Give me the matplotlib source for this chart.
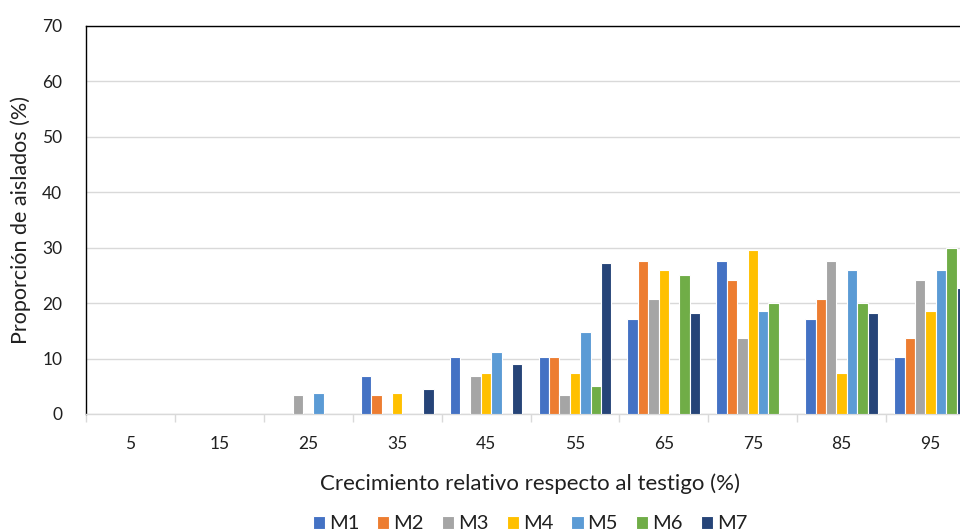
import matplotlib.pyplot as plt
import numpy as np

# === Data ===
categories = ["5", "15", "25", "35", "45", "55", "65", "75", "85", "95"]
series_names = ["M1", "M2", "M3", "M4", "M5", "M6", "M7"]
m1 = [0, 0, 0, 6.9, 10.3, 10.3, 17.2, 27.6, 17.2, 10.3]
m2 = [0, 0, 0, 3.4, 0, 10.3, 27.6, 24.1, 20.7, 13.8]
m3 = [0, 0, 3.4, 0, 6.9, 3.4, 20.7, 13.8, 27.6, 24.1]
m4 = [0, 0, 0, 3.7, 7.4, 7.4, 25.9, 29.6, 7.4, 18.5]
m5 = [0, 0, 3.7, 0, 11.1, 14.8, 0, 18.5, 25.9, 25.9]
m6 = [0, 0, 0, 0, 0, 5.0, 25.0, 20.0, 20.0, 30.0]
m7 = [0, 0, 0, 4.5, 9.1, 27.3, 18.2, 0, 18.2, 22.7]
colors = ["#4472C4", "#ED7D31", "#A5A5A5", "#FFC000", "#5B9BD5", "#70AD47", "#264478"]

plt.rcParams['font.family'] = ['Lato', 'DejaVu Sans']

fig = plt.figure(figsize=(9.6, 5.32), dpi=100)
# plot area runs a bit past the right edge, as in the cropped original
ax = fig.add_axes([86 / 960, 118 / 532, 889 / 960, 388 / 532])

x = np.arange(len(categories))
bar_w = 0.117
all_series = [m1, m2, m3, m4, m5, m6, m7]
for i, (vals, name, col) in enumerate(zip(all_series, series_names, colors)):
    offs = (i - 3) * bar_w
    ax.bar(x + offs, vals, width=bar_w, color=col, edgecolor="white", linewidth=0.8,
           label=name, zorder=3)

ax.set_xlim(-0.5, len(categories) - 0.5)
ax.set_ylim(0, 70)
ax.set_yticks(np.arange(0, 71, 10))
ax.set_xticks(x)
ax.set_xticklabels(categories)
ax.set_xticks(np.arange(-0.5, len(categories), 1), minor=True)
ax.tick_params(axis="x", which="major", length=0, pad=16, labelsize=12.5, colors="#202020")
ax.tick_params(axis="x", which="minor", length=6, color="#D9D9D9", width=1)
ax.tick_params(axis="y", length=0, pad=17, labelsize=12.5, colors="#202020")

ax.yaxis.grid(True, color="#D9D9D9", linewidth=1, zorder=0)
ax.set_axisbelow(True)

for s in ["top", "left", "right"]:
    ax.spines[s].set_color("black")
    ax.spines[s].set_linewidth(1)
ax.spines["bottom"].set_color("#D9D9D9")
ax.spines["bottom"].set_linewidth(1)

ax.set_ylabel("Proporción de aislados (%)", fontsize=15.5, labelpad=8, color="#202020")
ax.set_xlabel("Crecimiento relativo respecto al testigo (%)", fontsize=16, labelpad=15,
              color="#202020")

fig.legend(loc="lower center", bbox_to_anchor=(530 / 960, -0.035), ncol=7, frameon=False,
           fontsize=14.5, handlelength=0.6, handleheight=0.6, handletextpad=0.2,
           columnspacing=0.9, labelcolor="#202020")

fig.savefig("out.png", dpi=100)
